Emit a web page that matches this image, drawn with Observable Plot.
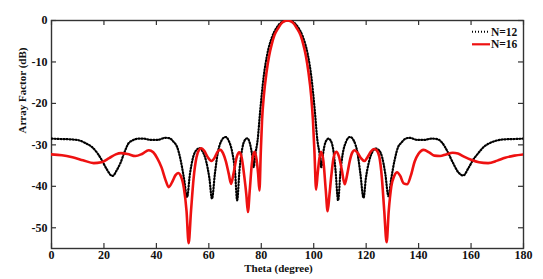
<!DOCTYPE html>
<html>
<head>
<meta charset="utf-8">
<script src="https://cdn.jsdelivr.net/npm/d3@7"></script>
<script src="https://cdn.jsdelivr.net/npm/@observablehq/plot@0.6"></script>
<style>
  html, body { margin: 0; padding: 0; background: #fff; }
  #chart { width: 543px; height: 279px; }
  #chart svg, #chart svg text { font-family: "Liberation Serif", "Times New Roman", "DejaVu Serif", serif !important; }
</style>
</head>
<body>
<div id="chart"></div>
<script>
// Array factor patterns (dB) versus theta (degrees)
const n12Theta = [0, 4, 8, 11, 13, 15.4, 17.5, 19.2, 21, 23.2, 25, 26.2, 28, 29.3, 31, 33, 35, 38, 40.5, 43.4,
  45, 46.6, 47.9, 49.2, 50.5, 51.7, 52.8, 54, 55.2, 56.5, 57.8, 59, 60.2, 61.2, 62.3, 63.4, 64.8, 66.3, 67.8, 69,
  70, 70.8, 71.7, 72.7, 73.6, 74.6, 75.6, 76.4, 77.1, 77.8, 78.6, 79.6, 80.9, 82.2, 84.1, 86, 87.8, 90,
  92.2, 94, 95.9, 97.8, 99.1, 100.4, 101.4, 102.2, 102.9, 103.6, 104.4, 105.6, 106.5, 107.4, 108.3, 109.3,
  110.2, 111.1, 112.3, 113.8, 115.3, 116.7, 117.8, 119, 119.9, 121.1, 122.3, 123.6, 124.9, 126.1, 127.3, 128.5,
  129.6, 130.9, 132.2, 133.4, 135, 136.6, 139.5, 142, 145, 147, 149, 151, 153, 155, 157, 159, 160.8, 162.5,
  165, 167, 169, 172, 176, 180];
const n12Db = [-28.5, -28.6, -28.7, -29.0, -29.6, -30.5, -32.0, -33.7, -35.8, -37.5, -36.0, -34.5, -31.5, -29.7, -28.9, -28.5, -28.5, -28.8, -28.8, -28.3,
  -28.4, -29.3, -30.5, -33.5, -38, -42.6, -37, -33, -31.3, -30.8, -31.8, -34, -38, -43, -37, -32, -29, -28.1, -29.3, -32,
  -36.5, -43.4, -36, -31, -29, -28.4, -29.5, -32, -35.4, -32, -28.9, -21.7, -13.6, -8.4, -4, -1.6, -0.4, 0,
  -0.4, -1.6, -4, -8.4, -13.6, -21.7, -28.9, -32, -35.4, -32, -29.5, -28.5, -29, -31, -36, -43.4,
  -36.5, -32, -29.3, -28.1, -29, -32, -37, -42.8, -38, -34, -31.8, -30.9, -31.3, -33, -37, -42.4,
  -38, -33.5, -30.5, -29.5, -28.5, -28.3, -28.8, -28.8, -28.5, -28.6, -29.5, -31.6, -34.2, -36.5, -37.4, -35.6, -33.6, -32.2,
  -30.4, -29.6, -29.1, -28.7, -28.6, -28.5];

const n16Theta = [0, 4, 8, 12, 16.1, 19, 22, 24.5, 26.5, 29, 32, 34.5, 37.1, 38.8, 40.3, 42, 43.5, 44.7, 46, 47.3,
  48.3, 49.3, 50.5, 51.5, 52.3, 53.2, 54.2, 55.3, 56.3, 57.2, 58.3, 59.6, 61, 62.3, 63.4, 64.4, 65.4, 66.5, 67.6, 68.5,
  69.4, 70.6, 71.6, 72.5, 73.5, 74.3, 74.9, 75.6, 76.5, 77.4, 78.2, 78.8, 79.3, 79.8, 80.3, 81, 82, 83, 84, 85,
  86.5, 88, 90,
  92, 93.5, 95, 96, 97, 98, 99, 99.7, 100.3, 100.9, 101.5, 102.1, 102.8, 103.7, 104.6, 105.3, 106, 106.7, 107.6, 108.6,
  109.6, 110.7, 111.8, 112.8, 113.7, 114.6, 115.6, 116.8, 118, 119.3, 120.5, 121.8, 123, 124, 125, 126, 126.9, 127.8,
  128.6, 129.6, 130.7, 131.8, 133, 134.3, 135.6, 137, 138.5, 139.9, 141.9, 144, 146, 148.2, 150.5, 153, 155, 157.5,
  160, 163, 166.5, 170, 173, 176.5, 180];
const n16Db = [-32.3, -32.5, -33.0, -33.7, -34.4, -34.2, -33.2, -32.3, -32.0, -32.2, -32.7, -32.2, -31.3, -31.8, -33.2, -35.5, -38.5, -40.2, -39, -37.3,
  -36.8, -37.5, -40.5, -46, -53.7, -46, -38, -33, -31.2, -30.8, -31.5, -33, -33.9, -33, -31.6, -31.2, -32, -34, -37, -39.4,
  -37, -33, -31.8, -33, -37.5, -42, -46.2, -41, -34, -31.7, -33.5, -37, -41, -32, -24, -18, -12.5, -8.5, -5.7, -3.6,
  -1.8, -0.5, 0,
  -0.5, -1.8, -3.6, -5.7, -8.5, -12.5, -18, -24, -32, -40.8, -37, -33.5, -31.7, -34, -41, -46, -42, -37.5, -33, -31.7,
  -32.8, -36, -39.5, -37, -34, -32, -31.3, -32, -33.2, -33.9, -33, -31.6, -31, -31.3, -32.8, -38, -46, -53.5,
  -46, -40, -37.5, -36.6, -37.5, -39.3, -39.5, -37.5, -34, -32.2, -31.2, -31.8, -32.6, -32.7, -32.3, -31.9, -32.1, -32.9,
  -33.6, -34.2, -34.4, -33.8, -33.1, -32.6, -32.3];

const xTicks = [0, 20, 40, 60, 80, 100, 120, 140, 160, 180];
const yTicks = [0, -10, -20, -30, -40, -50];
const seriesNames = ["N=12", "N=16"];

const n12 = n12Theta.map((t, i) => ({theta: t, db: n12Db[i]}));
const n16 = n16Theta.map((t, i) => ({theta: t, db: n16Db[i]}));

const W = 543, H = 279;
const mL = 51, mR = 20, mT = 20, mB = 31;
const innerW = W - mL - mR, innerH = H - mT - mB;
const serif = '"Liberation Serif", "Times New Roman", "DejaVu Serif", serif';
const tickLen = 5;
const dotted = "1,2";
const plain = d => String(d); // hyphen-minus, as in the printed axes

const chart = Plot.plot({
  width: W,
  height: H,
  marginLeft: mL,
  marginRight: mR,
  marginTop: mT,
  marginBottom: mB,
  style: {fontFamily: serif, fontWeight: "bold", fontSize: "12px", color: "#111", background: "#fff"},
  x: {domain: [0, 180]},
  y: {domain: [-55, 0]},
  marks: [
    Plot.axisX(xTicks, {anchor: "bottom", tickSize: 0, tickPadding: 2, tickFormat: plain, label: null, fontSize: 12, fontWeight: "bold"}),
    Plot.axisY(yTicks, {anchor: "left", tickSize: 0, tickPadding: 4, tickFormat: plain, label: null, fontSize: 12, fontWeight: "bold"}),
    // inward ticks on all four sides
    Plot.tickX(xTicks, {x: d => d, insetTop: innerH - tickLen, stroke: "#333", strokeWidth: 1.2}),
    Plot.tickX(xTicks, {x: d => d, insetBottom: innerH - tickLen, stroke: "#333", strokeWidth: 1.2}),
    Plot.tickY(yTicks, {y: d => d, insetRight: innerW - tickLen, stroke: "#333", strokeWidth: 1.2}),
    Plot.tickY(yTicks, {y: d => d, insetLeft: innerW - tickLen, stroke: "#333", strokeWidth: 1.2}),
    Plot.frame({stroke: "#333", strokeWidth: 1.4}),
    Plot.line(n12, {x: "theta", y: "db", stroke: "#000", strokeWidth: 2.2, strokeDasharray: dotted, curve: "monotone-x", clip: true}),
    Plot.line(n16, {x: "theta", y: "db", stroke: "#ee1111", strokeWidth: 2.6, curve: "monotone-x", clip: true}),
    Plot.text(["Theta (degree)"], {frameAnchor: "bottom", dx: -9, dy: 23.5, fontSize: 11, fontWeight: "bold", fill: "#111"}),
    Plot.text(["Array Factor (dB)"], {frameAnchor: "left", dx: -29, dy: -1, rotate: -90, fontSize: 11, fontWeight: "bold", fill: "#111"})
  ]
});

// legend in the upper right corner of the frame
const svg = d3.select(chart);
const leg = svg.append("g")
  .attr("font-family", serif)
  .attr("font-weight", "bold")
  .attr("font-size", 11.5)
  .attr("text-anchor", "start");
const legendRows = [
  {name: seriesNames[0], stroke: "#000", width: 2, dash: dotted, y: 31.7},
  {name: seriesNames[1], stroke: "#ee1111", width: 2.2, dash: null, y: 44.3}
];
legendRows.forEach(r => {
  leg.append("line")
    .attr("x1", 472).attr("x2", 490).attr("y1", r.y).attr("y2", r.y)
    .attr("stroke", r.stroke).attr("stroke-width", r.width)
    .attr("stroke-dasharray", r.dash);
  leg.append("text")
    .attr("x", 491).attr("y", r.y).attr("dy", "0.34em")
    .attr("text-anchor", "start")
    .attr("fill", "#111").text(r.name);
});

document.getElementById("chart").appendChild(chart);
</script>
</body>
</html>
